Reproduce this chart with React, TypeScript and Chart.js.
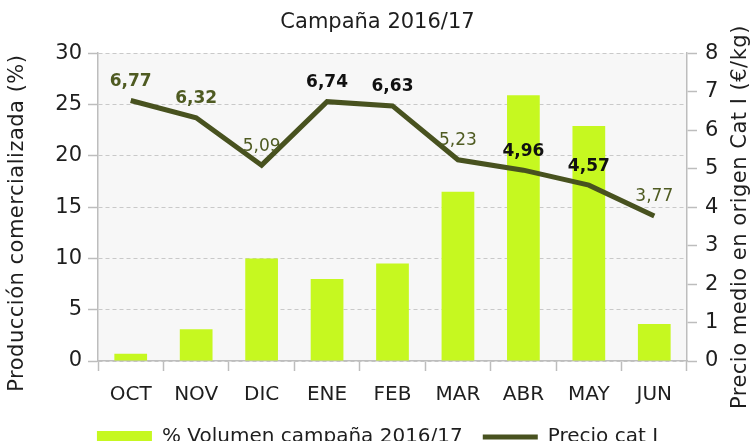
import React, { useEffect, useRef } from "react";
import { Chart, registerables } from "chart.js";

Chart.register(...registerables);

const months = ["OCT", "NOV", "DIC", "ENE", "FEB", "MAR", "ABR", "MAY", "JUN"];
const volumePct = [0.7, 3.1, 10.0, 8.0, 9.5, 16.5, 25.9, 22.9, 3.6];
const priceCatI = [6.77, 6.32, 5.09, 6.74, 6.63, 5.23, 4.96, 4.57, 3.77];
const leftTicks = { min: 0, max: 30, step: 5 };
const rightTicks = { min: 0, max: 8, step: 1 };

const titleText = "Campaña 2016/17";
const volumeLabel = "% Volumen campaña 2016/17";
const priceLabel = "Precio cat I";
const leftTitle = "Producción comercializada (%)";
const rightTitle = "Precio medio en origen Cat I (€/kg)";

const FONT = "'DejaVu Sans', sans-serif";
const LIME = "#c6f820";
const OLIVE_LINE = "#48521f";
const OLIVE_TEXT = "#4f5b22";
const TEXT = "#1e1e1e";
const AXIS = "#bdbdbd";
const GRID = "#c9c9c9";

// per-label styling (colour, bold)
const labelStyles: [string, boolean][] = [
  [OLIVE_TEXT, true],
  [OLIVE_TEXT, true],
  [OLIVE_TEXT, false],
  ["#111111", true],
  ["#111111", true],
  [OLIVE_TEXT, false],
  ["#111111", true],
  ["#111111", true],
  [OLIVE_TEXT, false],
];

const bgPlugin = {
  id: "plotBg",
  beforeDraw(chart: any) {
    const { ctx, chartArea } = chart;
    ctx.save();
    ctx.fillStyle = "#f7f7f7";
    ctx.fillRect(chartArea.left, chartArea.top, chartArea.right - chartArea.left, chartArea.bottom - chartArea.top);
    ctx.restore();
  },
};

const labelsPlugin = {
  id: "pointLabels",
  afterDatasetsDraw(chart: any) {
    const { ctx } = chart;
    const meta = chart.getDatasetMeta(0);
    ctx.save();
    ctx.textAlign = "center";
    ctx.textBaseline = "middle";
    meta.data.forEach((pt: any, i: number) => {
      const [color, bold] = labelStyles[i];
      ctx.font = `${bold ? "bold " : ""}17px ${FONT}`;
      ctx.fillStyle = color;
      ctx.fillText(priceCatI[i].toFixed(2).replace(".", ","), pt.x, pt.y - 19);
    });
    ctx.restore();
  },
};

const axisTitlesPlugin = {
  id: "axisTitles",
  afterDraw(chart: any) {
    const { ctx, chartArea } = chart;
    const midY = (chartArea.top + chartArea.bottom) / 2;
    ctx.save();
    ctx.fillStyle = TEXT;
    ctx.font = `21px ${FONT}`;
    (ctx as any).letterSpacing = "0.5px";
    ctx.textAlign = "center";
    ctx.textBaseline = "middle";
    ctx.save();
    ctx.translate(chartArea.left - 80, midY + 16);
    ctx.rotate(-Math.PI / 2);
    ctx.fillText(leftTitle, 0, 0);
    ctx.restore();
    ctx.save();
    ctx.translate(chartArea.right + 54, midY + 10);
    ctx.rotate(-Math.PI / 2);
    ctx.fillText(rightTitle, 0, 0);
    ctx.restore();
    ctx.restore();
  },
};

export default function App() {
  const ref = useRef<HTMLCanvasElement | null>(null);
  useEffect(() => {
    if (!ref.current) return;
    const chart = new Chart(ref.current, {
      type: "bar",
      data: {
        labels: months,
        datasets: [
          {
            type: "line",
            label: priceLabel,
            data: priceCatI,
            yAxisID: "y1",
            borderColor: OLIVE_LINE,
            backgroundColor: OLIVE_LINE,
            borderWidth: 5,
            pointRadius: 0,
            tension: 0,
          } as any,
          {
            type: "bar",
            label: volumeLabel,
            data: volumePct,
            yAxisID: "y",
            backgroundColor: LIME,
            barPercentage: 0.5,
            categoryPercentage: 1,
          },
        ],
      },
      options: {
        animation: false,
        responsive: true,
        maintainAspectRatio: false,
        layout: { padding: 0 },
        plugins: {
          tooltip: { enabled: false },
          title: {
            display: true,
            text: titleText,
            color: TEXT,
            font: { family: FONT, size: 21, weight: "normal" },
            padding: { top: 10, bottom: 18 },
          },
          legend: {
            display: true,
            position: "bottom",
            labels: {
              usePointStyle: true,
              pointStyleWidth: 55,
              boxHeight: 12,
              padding: 20,
              color: TEXT,
              font: { family: FONT, size: 20 },
              generateLabels: () => [
                { text: volumeLabel, fillStyle: LIME, strokeStyle: LIME, lineWidth: 0, pointStyle: "rect", datasetIndex: 1, hidden: false, fontColor: TEXT } as any,
                { text: priceLabel, fillStyle: OLIVE_LINE, strokeStyle: OLIVE_LINE, lineWidth: 5, pointStyle: "line", datasetIndex: 0, hidden: false, fontColor: TEXT } as any,
              ],
            },
          },
        },
        scales: {
          x: {
            grid: { offset: true, drawOnChartArea: false, drawTicks: true, tickLength: 10, tickColor: AXIS, tickWidth: 1.5 },
            border: { color: AXIS, width: 1.5 },
            ticks: { color: TEXT, font: { family: FONT, size: 20 }, padding: 12, maxRotation: 0 },
            afterFit(scale: any) { scale.height = 46; },
          },
          y: {
            position: "left",
            min: leftTicks.min,
            max: leftTicks.max,
            ticks: { stepSize: leftTicks.step, color: TEXT, font: { family: FONT, size: 21 }, padding: 6 },
            grid: { color: GRID, lineWidth: 1, tickLength: 10, tickColor: AXIS, tickWidth: 1.5, tickBorderDash: [] },
            border: { color: AXIS, width: 1.5, dash: [4, 3] },
            afterFit(scale: any) { scale.width = 98; },
          },
          y1: {
            position: "right",
            min: rightTicks.min,
            max: rightTicks.max,
            ticks: { stepSize: rightTicks.step, color: TEXT, font: { family: FONT, size: 21 }, padding: 8 },
            grid: { drawOnChartArea: false, tickLength: 10, tickColor: AXIS, tickWidth: 1.5 },
            border: { color: AXIS, width: 1.5 },
            afterFit(scale: any) { scale.width = 68; },
          },
        },
      },
      plugins: [bgPlugin, labelsPlugin, axisTitlesPlugin],
    });
    return () => chart.destroy();
  }, []);
  return (
    <div style={{ position: "fixed", left: 0, top: 0, width: 755, height: 457, background: "#fff" }}>
      <canvas ref={ref} />
    </div>
  );
}
